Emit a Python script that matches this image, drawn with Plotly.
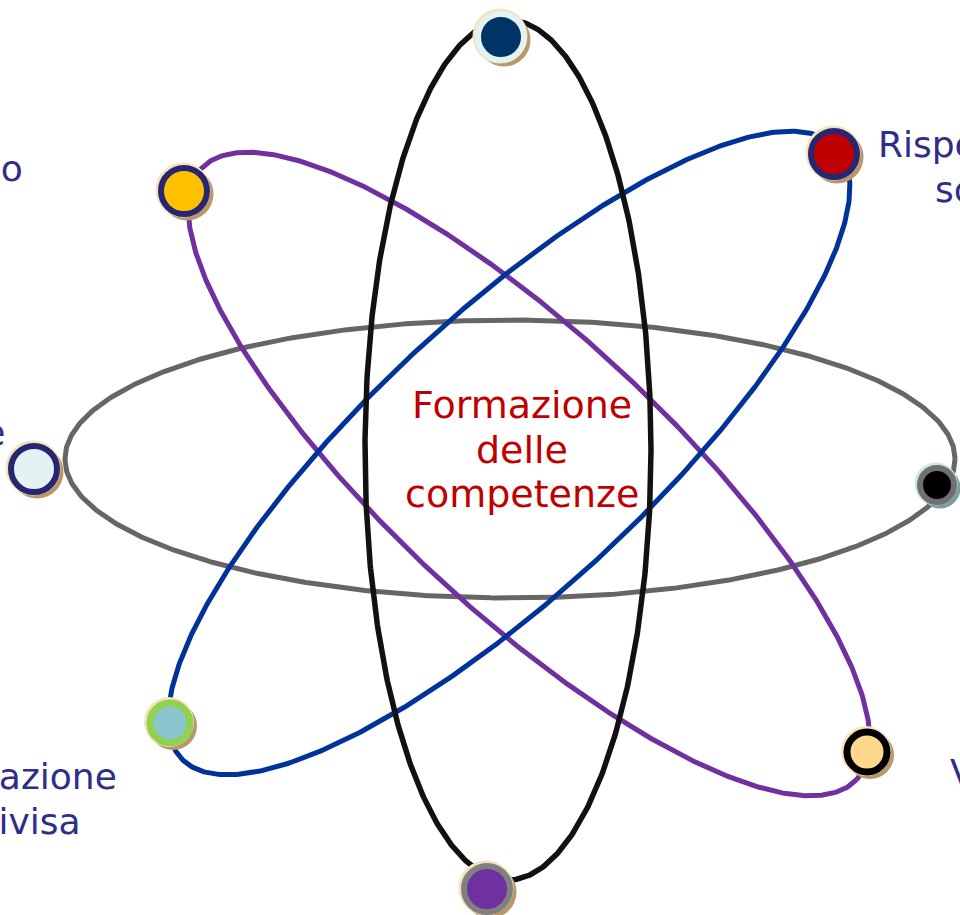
import numpy as np
import plotly.graph_objects as go

# ---- content -------------------------------------------------------------
center_lines = ["Formazione", "delle", "competenze"]
side_labels = ["Dialogo", "Motivazione", "Valutazione", "condivisa",
               "Rispetto delle", "scelte", "Valori"]

# orbits: name, centre x/y, semi-axes (along / across), rotation (deg)
orbit_names = ["gray", "purple", "blue", "black"]
orbit_cx = [510, 529, 509, 508]
orbit_cy = [459, 474, 453, 450]
orbit_a = [445, 448, 448, 143]
orbit_b = [139, 138, 138, 430]
orbit_rot = [0, 43, -43, 0]
orbit_color = ["#666666", "#7030A0", "#003399", "#111111"]
orbit_width = [5, 5, 5, 5.5]

# electrons (dots)
dot_x = [501, 834, 184, 34, 937, 170, 867, 487]
dot_y = [37, 154, 191, 469, 485, 723, 752, 889]
dot_fill = ["#003366", "#C00000", "#FFC000", "#E3F2F2", "#000000",
            "#8BC5CD", "#FFD88E", "#7030A0"]
dot_ring = ["#E3F2F2", "#262673", "#262673", "#262673", "#707070",
            "#92D050", "#000000", "#808080"]
dot_shadow = ["#B89868"] * 4 + ["#7E9E9E"] + ["#B89868"] * 3
dot_glow = ["#F6E2BC"] * 4 + ["#CDE6E6"] + ["#F6E2BC"] * 3
dot_size = [46, 46, 46, 46, 34, 40, 40, 46]
dot_ring_w = [6, 6, 6, 6, 6, 7, 7, 6]

fig = go.Figure()

t = np.linspace(0, 2 * np.pi, 721)
for name, cx, cy, a, b, rot, col, w in zip(orbit_names, orbit_cx, orbit_cy,
                                           orbit_a, orbit_b, orbit_rot,
                                           orbit_color, orbit_width):
    th = np.deg2rad(rot)
    x = cx + a * np.cos(t) * np.cos(th) - b * np.sin(t) * np.sin(th)
    y = cy + a * np.cos(t) * np.sin(th) + b * np.sin(t) * np.cos(th)
    fig.add_trace(go.Scatter(x=x, y=y, mode="lines", name=name,
                             line=dict(color=col, width=w),
                             hoverinfo="skip", showlegend=False))

outer = [s + w for s, w in zip(dot_size, dot_ring_w)]
# shadow (dark, lower right) and glow (light, upper left)
fig.add_trace(go.Scatter(x=[v + 3 for v in dot_x], y=[v + 3 for v in dot_y],
                         mode="markers", hoverinfo="skip", showlegend=False,
                         marker=dict(size=[o + 1 for o in outer], opacity=1,
                                     color=dot_shadow, line=dict(width=0))))
fig.add_trace(go.Scatter(x=[v - 1 for v in dot_x], y=[v - 1 for v in dot_y],
                         mode="markers", hoverinfo="skip", showlegend=False,
                         marker=dict(size=[o + 3 for o in outer], opacity=1,
                                     color=dot_glow, line=dict(width=0))))
fig.add_trace(go.Scatter(x=dot_x, y=dot_y, mode="markers",
                         hoverinfo="skip", showlegend=False,
                         marker=dict(size=dot_size, color=dot_fill, opacity=1,
                                     line=dict(color=dot_ring,
                                               width=dot_ring_w))))

for txt, ly in zip(center_lines, [405, 450, 494]):
    fig.add_annotation(x=522, y=ly, text=txt,
                       showarrow=False, xanchor="center", yanchor="middle",
                       font=dict(family="DejaVu Sans", size=38,
                                 color="#C00000"))

label_pos = [(25, 168, "right"), (7, 432, "right"), (119, 776, "right"),
             (83, 821, "right"), (876, 144, "left"), (933, 189, "left"),
             (948, 772, "left")]
for txt, (lx, ly, anc) in zip(side_labels, label_pos):
    fig.add_annotation(x=lx, y=ly, text=txt, showarrow=False,
                       xanchor=anc, yanchor="middle",
                       font=dict(family="DejaVu Sans", size=36,
                                 color="#2E2E88"))

fig.update_layout(width=960, height=915, autosize=False,
                  margin=dict(l=0, r=0, t=0, b=0),
                  paper_bgcolor="white", plot_bgcolor="white",
                  xaxis=dict(range=[0, 960], visible=False, fixedrange=True),
                  yaxis=dict(range=[915, 0], visible=False, fixedrange=True))

fig.write_html("out.html",
               config={"displayModeBar": False},
               post_script="document.body.style.margin='0';"
                           "document.body.style.overflow='hidden';")
